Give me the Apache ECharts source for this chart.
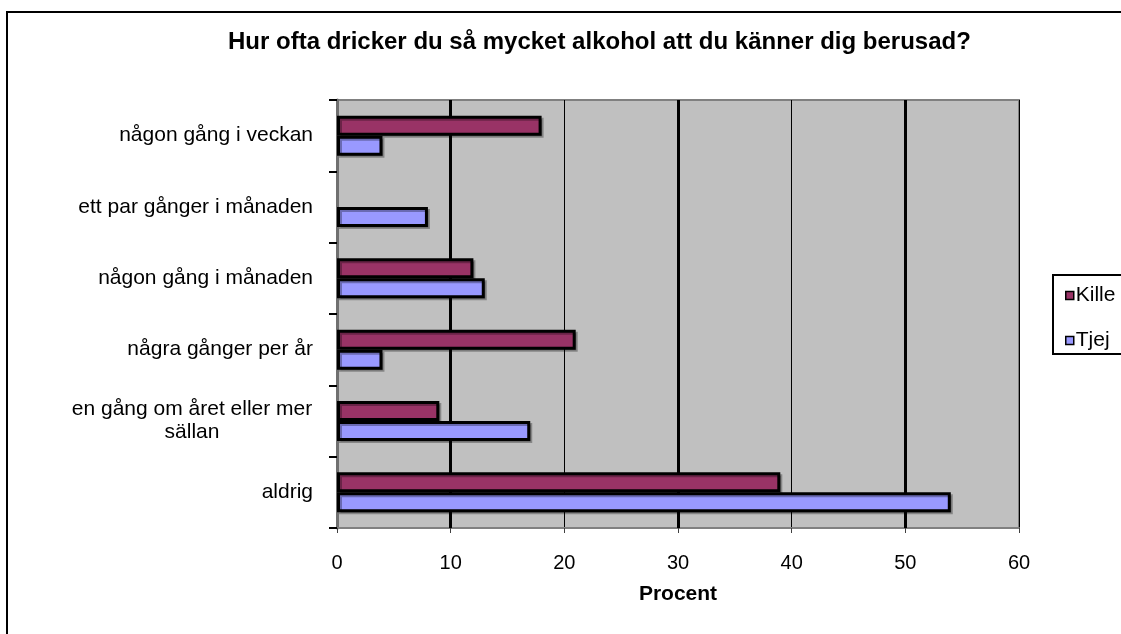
<!DOCTYPE html>
<html>
<head>
<meta charset="utf-8">
<script src="https://cdn.jsdelivr.net/npm/echarts@6/dist/echarts.min.js"></script>
<style>
  html, body { margin: 0; padding: 0; background: #fff; }
  #chart { width: 1121px; height: 634px; }
</style>
</head>
<body>
<div id="chart"></div>
<script>
// svarsalternativ, uppifrån och ned
const categories = [
  "någon gång i veckan",
  "ett par gånger i månaden",
  "någon gång i månaden",
  "några gånger per år",
  "en gång om året eller mer\nsällan",
  "aldrig",
];
const kille = [18, 0, 12, 21, 9, 39];
const tjej = [4, 8, 13, 4, 17, 54];
const thickLines = [10, 30, 50]; // tjocka stödlinjer

const font = "'Liberation Sans', Arial, sans-serif";
const chart = echarts.init(document.getElementById("chart"), null, { renderer: "canvas" });

// 0-staplar ritas inte alls (ingen kant)
const toBars = (arr) =>
  arr.map((v) => (v === 0 ? { value: v, itemStyle: { borderWidth: 0, shadowColor: "transparent" } } : v));

const barStyle = (color) => ({
  color: color,
  borderColor: "#000",
  borderWidth: 3,
  shadowColor: "rgba(0,0,0,0.3)",
  shadowOffsetX: 2,
  shadowOffsetY: 2,
});

const option = {
  animation: false,
  textStyle: { fontFamily: font, color: "#000" },
  title: {
    text: "Hur ofta dricker du så mycket alkohol att du känner dig berusad?",
    left: 228,
    top: 30,
    padding: 0,
    textStyle: { fontFamily: font, fontSize: 24, fontWeight: "bold", color: "#000" },
  },
  legend: {
    data: ["Kille", "Tjej"],
    orient: "vertical",
    left: 1053,
    top: 275,
    padding: [10, 30, 3, 12],
    itemGap: 24,
    itemWidth: 8,
    itemHeight: 8,
    icon: "rect",
    borderColor: "#000",
    borderWidth: 2,
    backgroundColor: "#fff",
    itemStyle: { borderColor: "#000", borderWidth: 1.5, shadowBlur: 0, shadowOffsetX: 0, shadowOffsetY: 0 },
    textStyle: { fontFamily: font, fontSize: 21, color: "#000", padding: [0, 0, 0, -3] },
  },
  grid: {
    left: 337,
    top: 100,
    width: 682,
    height: 428,
    show: true,
    backgroundColor: "#C0C0C0",
    borderColor: "#808080",
    borderWidth: 2,
  },
  xAxis: {
    type: "value",
    min: 0,
    max: 60,
    interval: 10,
    name: "Procent",
    nameLocation: "middle",
    nameGap: 56,
    nameTextStyle: { fontFamily: font, fontSize: 21, fontWeight: "bold", color: "#000" },
    axisLine: { show: true, lineStyle: { color: "#808080", width: 2 } },
    axisTick: { show: true, length: 5, lineStyle: { color: "#404040", width: 1 } },
    axisLabel: { margin: 25, fontSize: 20, color: "#000", fontFamily: font },
    splitLine: { show: true, lineStyle: { color: "#000", width: 1 } },
  },
  yAxis: {
    type: "category",
    inverse: true,
    data: categories,
    axisLine: { show: true, lineStyle: { color: "#707070", width: 3 } },
    axisTick: { show: true, length: 8, lineStyle: { color: "#000", width: 2 } },
    axisLabel: {
      margin: 24,
      fontSize: 21,
      color: "#000",
      fontFamily: font,
      lineHeight: 23,
      formatter: function (v) {
        if (v.indexOf("\n") < 0) return v;
        return v.split("\n").map(function (s) { return "{c|" + s + "}"; }).join("\n");
      },
      rich: {
        c: { width: 242, align: "center", fontSize: 21, lineHeight: 23, fontFamily: font, color: "#000" },
      },
    },
    splitLine: { show: false },
  },
  series: [
    {
      name: "Kille",
      type: "bar",
      z: 2,
      barWidth: 20,
      barGap: "0%",
      itemStyle: barStyle("#993366"),
      data: toBars(kille),
    },
    {
      name: "Tjej",
      type: "bar",
      z: 2,
      barWidth: 20,
      barGap: "0%",
      itemStyle: barStyle("#9999FF"),
      data: toBars(tjej),
    },
    {
      // tjocka stödlinjer vid 10, 30, 50
      name: "grid",
      type: "line",
      z: 1,
      data: [],
      markLine: {
        z: 1,
        silent: true,
        symbol: ["none", "none"],
        label: { show: false },
        lineStyle: { color: "#000", width: 3, type: "solid" },
        data: thickLines.map(function (v) { return { xAxis: v }; }),
      },
    },
  ],
  graphic: [
    {
      type: "rect",
      shape: { x: 7, y: 12, width: 1140, height: 650 },
      style: { fill: "none", stroke: "#000", lineWidth: 2 },
      silent: true,
    },
  ],
};

chart.setOption(option);
</script>
</body>
</html>
